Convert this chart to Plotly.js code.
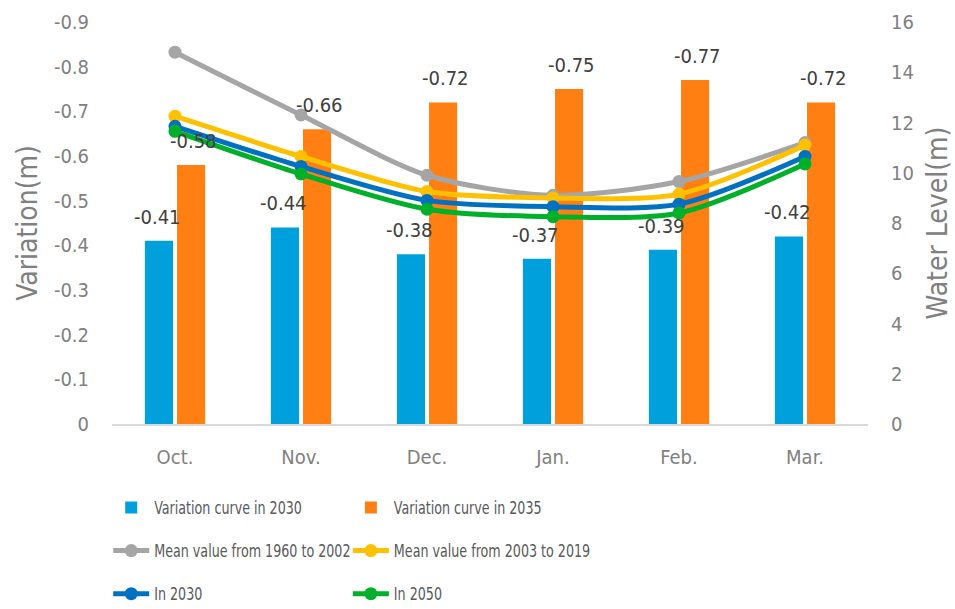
<!DOCTYPE html>
<html><head><meta charset="utf-8">
<script src="https://cdn.plot.ly/plotly-3.0.1.min.js"></script>
<style>html,body{margin:0;padding:0;background:#fff}#chart{width:955px;height:609px}</style>
</head><body><div id="chart"></div>
<script>
const months = ["Oct.", "Nov.", "Dec.", "Jan.", "Feb.", "Mar."];
const var2030 = [-0.41, -0.44, -0.38, -0.37, -0.39, -0.42];
const var2035 = [-0.58, -0.66, -0.72, -0.75, -0.77, -0.72];
const mean1960_2002 = [14.8, 12.3, 9.9, 9.1, 9.65, 11.2];
const mean2003_2019 = [12.25, 10.65, 9.25, 9.0, 9.15, 11.1];
const level2030 = [11.85, 10.25, 8.9, 8.65, 8.75, 10.65];
const level2050 = [11.65, 9.95, 8.55, 8.25, 8.4, 10.35];
const seriesNames = ["Variation curve in 2030", "Variation curve in 2035",
  "Mean value from 1960 to 2002", "Mean value from 2003 to 2019", "In 2030", "In 2050"];
const leftTicks = [0, -0.1, -0.2, -0.3, -0.4, -0.5, -0.6, -0.7, -0.8, -0.9];
const leftTickText = ["0", "-0.1", "-0.2", "-0.3", "-0.4", "-0.5", "-0.6", "-0.7", "-0.8", "-0.9"];
const rightTicks = [0, 2, 4, 6, 8, 10, 12, 14, 16];

const FONT = "DejaVu Sans Condensed, Open Sans, sans-serif";
const GRAY = "#808080";

function lineTrace(y, name, color, legend) {
  return {
    type: "scatter", mode: "lines+markers", x: months, y: y, name: name, yaxis: "y2",
    line: {color: color, width: 5, shape: "spline", smoothing: 0.8},
    marker: {color: color, size: 13},
    legend: legend, legendgroup: name
  };
}

const data = [
  {type: "bar", x: months, y: var2030, name: seriesNames[0],
   marker: {color: "#00A0DC"}, legend: "legend", legendgroup: "a"},
  {type: "bar", x: months, y: var2035, name: seriesNames[1],
   marker: {color: "#FF7F13"}, legend: "legend2", legendgroup: "b"},
  lineTrace(mean1960_2002, seriesNames[2], "#A5A5A5", "legend"),
  lineTrace(mean2003_2019, seriesNames[3], "#FFC000", "legend2"),
  lineTrace(level2030, seriesNames[4], "#0070C0", "legend"),
  lineTrace(level2050, seriesNames[5], "#00B02A", "legend2")
];

// data labels above each bar
const annotations = [];
[[var2030, -18], [var2035, 18]].forEach(([vals, dx]) => {
  vals.forEach((v, i) => {
    annotations.push({x: months[i], y: v, xref: "x", yref: "y", text: String(v),
      showarrow: false, xshift: dx, yshift: 24, yanchor: "middle", xanchor: "center",
      font: {family: FONT, size: 20, color: "#404040"}});
  });
});

const legendCommon = {
  orientation: "v", yanchor: "top", xanchor: "left", y: -0.164,
  font: {family: FONT, size: 17, color: "#595959"}, itemwidth: 36,
  tracegroupgap: 18, bgcolor: "rgba(0,0,0,0)", traceorder: "grouped"
};

const layout = {
  width: 955, height: 609,
  margin: {l: 112, r: 87, t: 22, b: 185, autoexpand: false},
  paper_bgcolor: "#fff", plot_bgcolor: "#fff",
  font: {family: FONT, size: 19, color: GRAY},
  barmode: "group", bargap: 0.49, bargroupgap: 0.125,
  showlegend: true,
  legend: Object.assign({}, legendCommon, {x: -0.005}),
  legend2: Object.assign({}, legendCommon, {x: 0.312}),
  annotations: annotations,
  xaxis: {type: "category", showline: true, linecolor: "#D9D9D9", linewidth: 2,
          ticks: "", ticklabelstandoff: 14, tickfont: {size: 20, color: GRAY, family: FONT},
          showgrid: false, zeroline: false},
  yaxis: {range: [0, -0.9], tickvals: leftTicks, ticktext: leftTickText, showgrid: false,
          zeroline: false, showline: false, ticks: "", ticklabelstandoff: 22,
          tickfont: {size: 20, color: GRAY, family: FONT},
          title: {text: "Variation(m)", font: {size: 28, color: GRAY, family: FONT}, standoff: 8}},
  yaxis2: {overlaying: "y", side: "right", range: [0, 16], tickvals: rightTicks, showgrid: false,
           zeroline: false, showline: false, ticks: "", ticklabelstandoff: 22,
           tickfont: {size: 20, color: GRAY, family: FONT},
           title: {text: "Water Level(m)", font: {size: 28, color: GRAY, family: FONT}, standoff: 14}}
};

function condenseLegend() {
  // condense legend labels toward the narrow width of the original font
  document.querySelectorAll("#chart text").forEach(function (t) {
    if (seriesNames.indexOf(t.textContent) < 0) return;
    if (t.getAttribute("data-condensed")) return;
    var w = t.getComputedTextLength();
    if (!w) return;
    t.setAttribute("lengthAdjust", "spacingAndGlyphs");
    t.setAttribute("textLength", (w * 0.83).toFixed(1));
    t.setAttribute("data-condensed", "1");
  });
}

const gd = document.getElementById("chart");
Plotly.newPlot(gd, data, layout, {displayModeBar: false, staticPlot: true}).then(function () {
  condenseLegend();
  setTimeout(condenseLegend, 50);
  setTimeout(condenseLegend, 300);
});
gd.on && gd.on("plotly_afterplot", condenseLegend);
</script></body></html>
